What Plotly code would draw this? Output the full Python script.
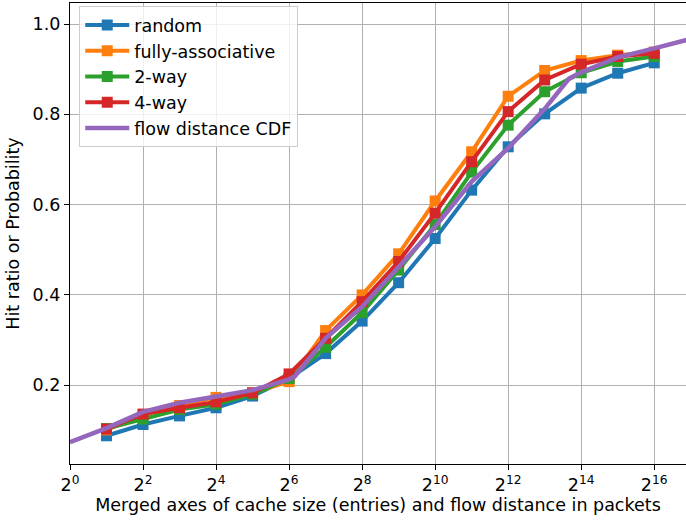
import plotly.graph_objects as go

# Cache sizes (entries) for the simulated policies
cache_sizes = [2, 4, 8, 16, 32, 64, 128, 256, 512, 1024, 2048, 4096, 8192, 16384, 32768, 65536]

hit_random = [0.088, 0.113, 0.132, 0.150, 0.176, 0.215, 0.270, 0.342, 0.427, 0.525,
              0.632, 0.728, 0.801, 0.858, 0.891, 0.914]
hit_fully_assoc = [0.101, 0.134, 0.155, 0.173, 0.183, 0.208, 0.321, 0.400, 0.491, 0.608,
                   0.717, 0.840, 0.897, 0.919, 0.931, 0.938]
hit_2way = [0.104, 0.125, 0.146, 0.158, 0.180, 0.215, 0.284, 0.361, 0.455, 0.556,
            0.672, 0.776, 0.850, 0.892, 0.917, 0.928]
hit_4way = [0.103, 0.136, 0.150, 0.163, 0.183, 0.225, 0.304, 0.385, 0.474, 0.581,
            0.695, 0.806, 0.876, 0.911, 0.928, 0.935]

# Flow distance CDF (distance in packets)
flow_distance = [1, 2, 4, 8, 16, 32, 64, 71, 128, 256, 512, 1024, 2048, 4096, 8192,
                 13000, 16384, 32768, 65536, 131072]
flow_cdf = [0.074, 0.105, 0.141, 0.161, 0.175, 0.189, 0.213, 0.219, 0.304, 0.374, 0.462,
            0.551, 0.651, 0.725, 0.812, 0.879, 0.893, 0.926, 0.946, 0.967]

tick_exponents = [0, 2, 4, 6, 8, 10, 12, 14, 16]

colors = {
    "random": "#1f77b4",
    "fully-associative": "#ff7f0e",
    "2-way": "#2ca02c",
    "4-way": "#d62728",
    "flow distance CDF": "#9467bd",
}

FONT = "DejaVu Sans"
FS = 17.5

fig = go.Figure()
for name, ys in [("random", hit_random), ("fully-associative", hit_fully_assoc),
                 ("2-way", hit_2way), ("4-way", hit_4way)]:
    fig.add_trace(go.Scatter(
        x=cache_sizes, y=ys, name=name, mode="lines+markers",
        line=dict(color=colors[name], width=4),
        marker=dict(symbol="square", size=11, color=colors[name],
                    line=dict(width=0)),
    ))

fig.add_trace(go.Scatter(
    x=flow_distance, y=flow_cdf, name="flow distance CDF", mode="lines",
    line=dict(color=colors["flow distance CDF"], width=4.5),
))

x_max_exp = 16.87
fig.update_layout(
    width=686, height=521,
    margin=dict(l=70, r=0, t=3, b=57),
    paper_bgcolor="white", plot_bgcolor="white",
    font=dict(family=FONT, size=FS, color="black"),
    showlegend=True,
    legend=dict(
        x=0.015, y=0.993, xanchor="left", yanchor="top",
        bgcolor="rgba(255,255,255,0.8)", bordercolor="#cccccc", borderwidth=1,
        font=dict(family=FONT, size=FS),
        tracegroupgap=0, itemwidth=44,
    ),
    xaxis=dict(
        type="log",
        range=[0, x_max_exp * 0.30103],
        tickvals=[2 ** e for e in tick_exponents],
        ticktext=[f"2<sup>{e}</sup>" for e in tick_exponents],
        ticks="outside", ticklen=5, tickcolor="black", tickwidth=1,
        showgrid=True, gridcolor="#b0b0b0", gridwidth=1,
        showline=True, linecolor="black", linewidth=1.3, mirror=True,
        zeroline=False,
        tickfont=dict(family=FONT, size=FS),
        title=dict(text="Merged axes of cache size (entries) and flow distance in packets",
                   font=dict(family=FONT, size=FS), standoff=4),
    ),
    yaxis=dict(
        range=[0.0255, 1.0465],
        tickvals=[0.2, 0.4, 0.6, 0.8, 1.0],
        ticktext=["0.2", "0.4", "0.6", "0.8", "1.0"],
        ticks="outside", ticklen=5, tickcolor="black", tickwidth=1,
        showgrid=True, gridcolor="#b0b0b0", gridwidth=1,
        showline=True, linecolor="black", linewidth=1.3, mirror=False,
        zeroline=False,
        tickfont=dict(family=FONT, size=FS),
        title=dict(text="Hit ratio or Probability", font=dict(family=FONT, size=FS),
                   standoff=8),
    ),
)

fig.write_html("out.html")
